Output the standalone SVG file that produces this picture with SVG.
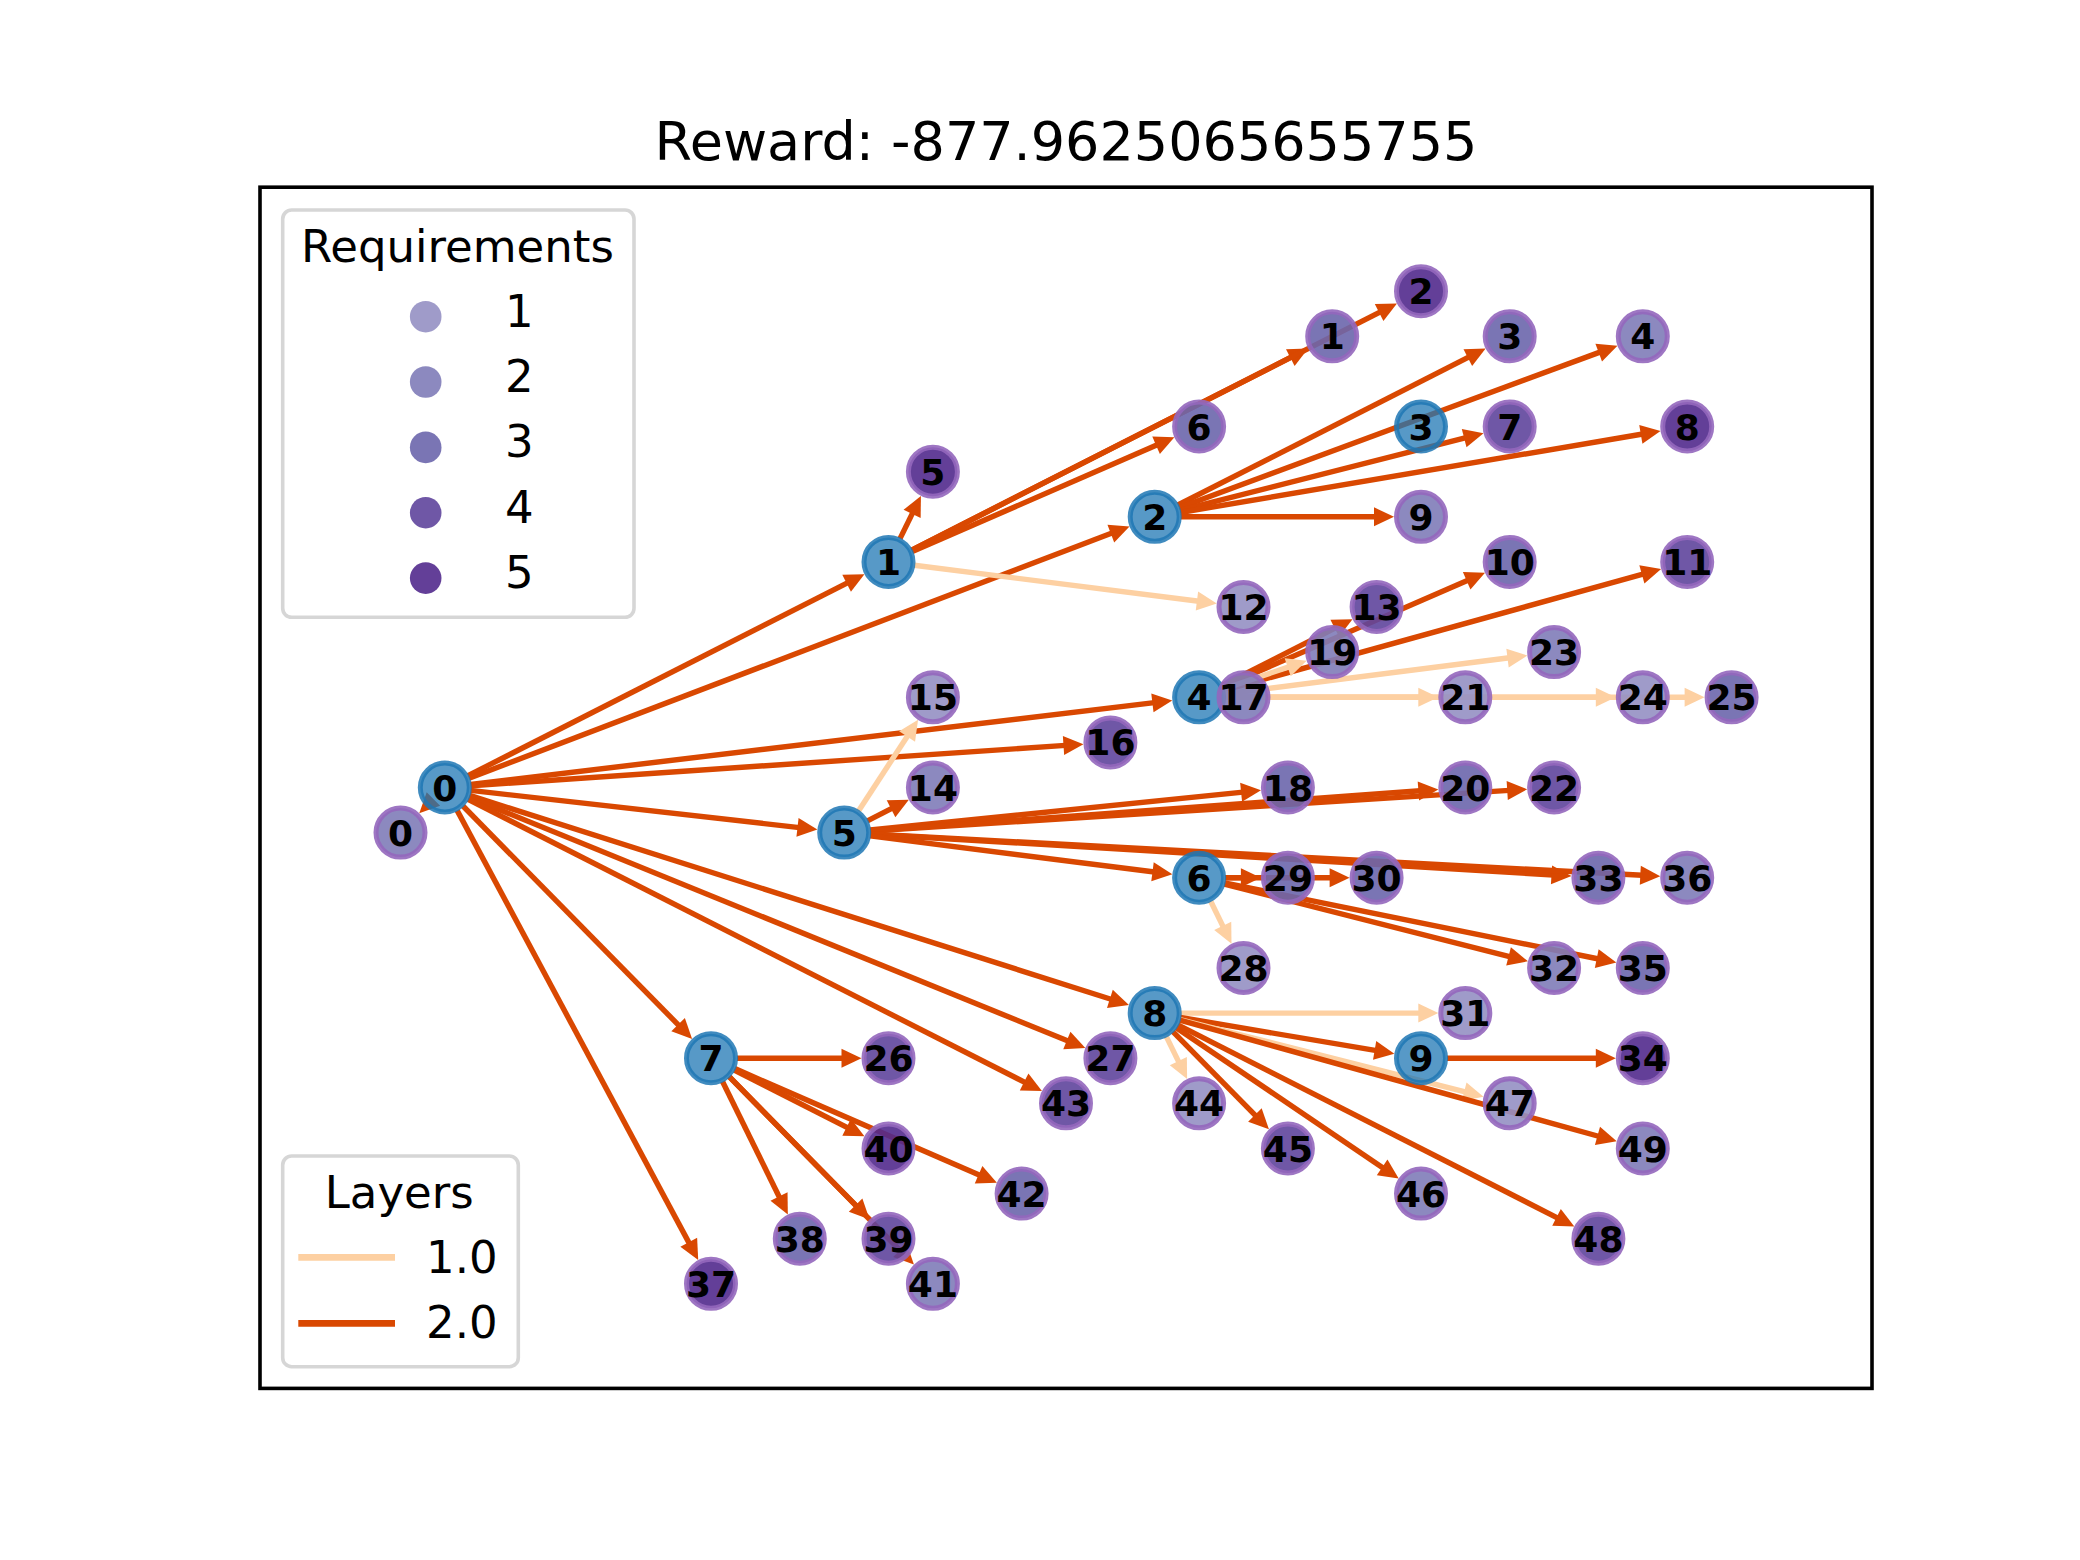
<svg xmlns="http://www.w3.org/2000/svg" width="2080" height="1560" viewBox="0 0 2080 1560">
<style>
.e2{stroke:#d94801;stroke-width:5.4;fill:none;marker-end:url(#ah2)}
.e1{stroke:#fdd0a2;stroke-width:5.4;fill:none;marker-end:url(#ah1)}
.bn{fill:#1f77b4;fill-opacity:0.75;stroke:#1f77b4;stroke-opacity:0.85;stroke-width:5}
.pn{stroke:#9467bd;stroke-opacity:0.9;stroke-width:5;fill-opacity:0.9}
.q1{fill:#9590c3}.q2{fill:#807cb8}.q3{fill:#6c66ac}.q4{fill:#5f459c}.q5{fill:#522a8d}
.lb{font-family:"DejaVu Sans",sans-serif;font-weight:bold;font-size:36px;text-anchor:middle;fill:#000}
.lg{font-family:"DejaVu Sans",sans-serif;font-size:45px;fill:#000}
.frame{fill:#ffffff;fill-opacity:0.8;stroke:#cccccc;stroke-opacity:0.8;stroke-width:3.6}
</style>
<defs>
<marker id="ah2" markerUnits="userSpaceOnUse" orient="auto" refX="0" refY="0" markerWidth="20" markerHeight="20" overflow="visible"><path d="M-2,-9.5 L18,0 L-2,9.5 Z" fill="#d94801"/></marker>
<marker id="ah1" markerUnits="userSpaceOnUse" orient="auto" refX="0" refY="0" markerWidth="20" markerHeight="20" overflow="visible"><path d="M-2,-9.5 L18,0 L-2,9.5 Z" fill="#fdd0a2"/></marker>
</defs>
<rect x="0" y="0" width="2080" height="1560" fill="#ffffff"/>
<text x="1066" y="160" font-family="DejaVu Sans, sans-serif" font-size="54" text-anchor="middle">Reward: -877.9625065655755</text>
<rect x="260" y="187.2" width="1612" height="1201.2" fill="none" stroke="#000" stroke-width="3.6"/>
<g id="edges">
<path class="e2" d="M432.7,799.8 L432.0,800.5"/>
<path class="e2" d="M468.0,775.7 L848.4,582.3"/>
<path class="e2" d="M469.1,778.2 L1112.7,532.8"/>
<path class="e2" d="M470.6,784.4 L1154.4,702.6"/>
<path class="e2" d="M470.7,785.7 L1065.5,745.4"/>
<path class="e2" d="M470.6,790.4 L799.5,827.6"/>
<path class="e2" d="M469.6,795.4 L1111.8,999.5"/>
<path class="e2" d="M468.9,797.3 L1068.7,1041.3"/>
<path class="e2" d="M468.0,799.3 L1025.9,1082.9"/>
<path class="e2" d="M463.0,806.0 L679.5,1026.1"/>
<path class="e2" d="M457.1,810.4 L689.7,1244.1"/>
<path class="e2" d="M900.0,538.6 L913.0,512.1"/>
<path class="e2" d="M911.7,550.1 L1292.1,356.7"/>
<path class="e2" d="M911.7,550.1 L1380.9,311.6"/>
<path class="e2" d="M912.3,551.5 L1157.9,444.5"/>
<path class="e1" d="M914.3,565.2 L1198.9,601.3"/>
<path class="e2" d="M1177.9,505.0 L1469.6,356.7"/>
<path class="e2" d="M1179.1,507.8 L1600.6,351.9"/>
<path class="e2" d="M1179.9,510.4 L1466.1,437.6"/>
<path class="e2" d="M1180.3,512.5 L1642.8,434.0"/>
<path class="e2" d="M1180.7,516.8 L1376.0,516.8"/>
<path class="e2" d="M1222.3,685.5 L1336.5,627.4"/>
<path class="e2" d="M1222.9,686.9 L1468.5,579.9"/>
<path class="e2" d="M1224.2,690.3 L1643.8,573.9"/>
<path class="e1" d="M1223.7,688.9 L1289.6,666.6"/>
<path class="e1" d="M1224.9,694.0 L1509.5,657.8"/>
<path class="e1" d="M1225.1,697.3 L1420.3,697.3"/>
<path class="e1" d="M1225.1,697.3 L1597.8,697.3"/>
<path class="e1" d="M1225.1,697.3 L1686.6,697.3"/>
<path class="e1" d="M858.5,810.9 L908.2,734.9"/>
<path class="e2" d="M867.4,820.8 L892.8,807.9"/>
<path class="e2" d="M870.1,830.0 L1243.1,792.1"/>
<path class="e2" d="M870.1,830.7 L1420.4,790.8"/>
<path class="e2" d="M870.1,831.0 L1509.2,790.4"/>
<path class="e2" d="M870.2,834.2 L1553.5,875.0"/>
<path class="e2" d="M870.2,834.0 L1642.3,875.3"/>
<path class="e2" d="M870.0,835.9 L1154.5,872.0"/>
<path class="e2" d="M1225.1,877.7 L1242.9,877.7"/>
<path class="e2" d="M1225.1,877.7 L1331.6,877.7"/>
<path class="e1" d="M1210.6,901.0 L1223.6,927.6"/>
<path class="e2" d="M1224.3,884.1 L1510.5,956.9"/>
<path class="e2" d="M1224.6,882.9 L1598.7,959.0"/>
<path class="e1" d="M1180.7,1013.1 L1420.3,1013.1"/>
<path class="e2" d="M1180.3,1017.4 L1376.6,1050.7"/>
<path class="e1" d="M1179.9,1019.5 L1466.1,1092.2"/>
<path class="e2" d="M1179.8,1020.1 L1599.4,1136.5"/>
<path class="e1" d="M1166.2,1036.4 L1179.2,1062.9"/>
<path class="e2" d="M1172.9,1031.6 L1256.3,1116.4"/>
<path class="e2" d="M1176.2,1027.7 L1383.8,1168.4"/>
<path class="e2" d="M1177.9,1024.9 L1558.3,1218.3"/>
<path class="e2" d="M1447.0,1058.2 L1597.8,1058.2"/>
<path class="e2" d="M737.0,1058.2 L843.5,1058.2"/>
<path class="e2" d="M734.2,1070.0 L848.4,1128.1"/>
<path class="e2" d="M734.8,1068.6 L980.4,1175.6"/>
<path class="e2" d="M722.5,1081.5 L779.9,1198.3"/>
<path class="e2" d="M729.2,1076.7 L857.0,1206.6"/>
<path class="e2" d="M729.2,1076.7 L901.3,1251.7"/>
</g>
<g id="b0"><circle class="bn" cx="444.8" cy="787.5" r="24.5"/><text class="lb" x="444.8" y="800.5">0</text></g>
<g id="b1"><circle class="bn" cx="888.5" cy="561.9" r="24.5"/><text class="lb" x="888.5" y="574.9">1</text></g>
<g id="b2"><circle class="bn" cx="1154.7" cy="516.8" r="24.5"/><text class="lb" x="1154.7" y="529.8">2</text></g>
<g id="b3"><circle class="bn" cx="1421.0" cy="426.5" r="24.5"/><text class="lb" x="1421.0" y="439.5">3</text></g>
<g id="b4"><circle class="bn" cx="1199.1" cy="697.3" r="24.5"/><text class="lb" x="1199.1" y="710.3">4</text></g>
<g id="b5"><circle class="bn" cx="844.2" cy="832.6" r="24.5"/><text class="lb" x="844.2" y="845.6">5</text></g>
<g id="b6"><circle class="bn" cx="1199.1" cy="877.7" r="24.5"/><text class="lb" x="1199.1" y="890.7">6</text></g>
<g id="b7"><circle class="bn" cx="711.0" cy="1058.2" r="24.5"/><text class="lb" x="711.0" y="1071.2">7</text></g>
<g id="b8"><circle class="bn" cx="1154.7" cy="1013.1" r="24.5"/><text class="lb" x="1154.7" y="1026.1">8</text></g>
<g id="b9"><circle class="bn" cx="1421.0" cy="1058.2" r="24.5"/><text class="lb" x="1421.0" y="1071.2">9</text></g>
<g id="p0"><circle class="pn q2" cx="400.5" cy="832.6" r="24.5"/><text class="lb" x="400.5" y="845.6">0</text></g>
<g id="p1"><circle class="pn q3" cx="1332.2" cy="336.3" r="24.5"/><text class="lb" x="1332.2" y="349.3">1</text></g>
<g id="p2"><circle class="pn q5" cx="1421.0" cy="291.2" r="24.5"/><text class="lb" x="1421.0" y="304.2">2</text></g>
<g id="p3"><circle class="pn q3" cx="1509.7" cy="336.3" r="24.5"/><text class="lb" x="1509.7" y="349.3">3</text></g>
<g id="p4"><circle class="pn q2" cx="1642.8" cy="336.3" r="24.5"/><text class="lb" x="1642.8" y="349.3">4</text></g>
<g id="p5"><circle class="pn q5" cx="932.9" cy="471.7" r="24.5"/><text class="lb" x="932.9" y="484.7">5</text></g>
<g id="p6"><circle class="pn q3" cx="1199.1" cy="426.5" r="24.5"/><text class="lb" x="1199.1" y="439.5">6</text></g>
<g id="p7"><circle class="pn q4" cx="1509.7" cy="426.5" r="24.5"/><text class="lb" x="1509.7" y="439.5">7</text></g>
<g id="p8"><circle class="pn q5" cx="1687.2" cy="426.5" r="24.5"/><text class="lb" x="1687.2" y="439.5">8</text></g>
<g id="p9"><circle class="pn q2" cx="1421.0" cy="516.8" r="24.5"/><text class="lb" x="1421.0" y="529.8">9</text></g>
<g id="p10"><circle class="pn q3" cx="1509.7" cy="561.9" r="24.5"/><text class="lb" x="1509.7" y="574.9">10</text></g>
<g id="p11"><circle class="pn q4" cx="1687.2" cy="561.9" r="24.5"/><text class="lb" x="1687.2" y="574.9">11</text></g>
<g id="p12"><circle class="pn q1" cx="1243.5" cy="607.0" r="24.5"/><text class="lb" x="1243.5" y="620.0">12</text></g>
<g id="p13"><circle class="pn q4" cx="1376.6" cy="607.0" r="24.5"/><text class="lb" x="1376.6" y="620.0">13</text></g>
<g id="p14"><circle class="pn q2" cx="932.9" cy="787.5" r="24.5"/><text class="lb" x="932.9" y="800.5">14</text></g>
<g id="p15"><circle class="pn q1" cx="932.9" cy="697.3" r="24.5"/><text class="lb" x="932.9" y="710.3">15</text></g>
<g id="p16"><circle class="pn q4" cx="1110.4" cy="742.4" r="24.5"/><text class="lb" x="1110.4" y="755.4">16</text></g>
<g id="p17"><circle class="pn q2" cx="1243.5" cy="697.3" r="24.5"/><text class="lb" x="1243.5" y="710.3">17</text></g>
<g id="p18"><circle class="pn q3" cx="1287.9" cy="787.5" r="24.5"/><text class="lb" x="1287.9" y="800.5">18</text></g>
<g id="p19"><circle class="pn q2" cx="1332.2" cy="652.1" r="24.5"/><text class="lb" x="1332.2" y="665.1">19</text></g>
<g id="p20"><circle class="pn q3" cx="1465.3" cy="787.5" r="24.5"/><text class="lb" x="1465.3" y="800.5">20</text></g>
<g id="p21"><circle class="pn q1" cx="1465.3" cy="697.3" r="24.5"/><text class="lb" x="1465.3" y="710.3">21</text></g>
<g id="p22"><circle class="pn q4" cx="1554.1" cy="787.5" r="24.5"/><text class="lb" x="1554.1" y="800.5">22</text></g>
<g id="p23"><circle class="pn q2" cx="1554.1" cy="652.1" r="24.5"/><text class="lb" x="1554.1" y="665.1">23</text></g>
<g id="p24"><circle class="pn q1" cx="1642.8" cy="697.3" r="24.5"/><text class="lb" x="1642.8" y="710.3">24</text></g>
<g id="p25"><circle class="pn q3" cx="1731.6" cy="697.3" r="24.5"/><text class="lb" x="1731.6" y="710.3">25</text></g>
<g id="p26"><circle class="pn q4" cx="888.5" cy="1058.2" r="24.5"/><text class="lb" x="888.5" y="1071.2">26</text></g>
<g id="p27"><circle class="pn q4" cx="1110.4" cy="1058.2" r="24.5"/><text class="lb" x="1110.4" y="1071.2">27</text></g>
<g id="p28"><circle class="pn q1" cx="1243.5" cy="968.0" r="24.5"/><text class="lb" x="1243.5" y="981.0">28</text></g>
<g id="p29"><circle class="pn q3" cx="1287.9" cy="877.7" r="24.5"/><text class="lb" x="1287.9" y="890.7">29</text></g>
<g id="p30"><circle class="pn q3" cx="1376.6" cy="877.7" r="24.5"/><text class="lb" x="1376.6" y="890.7">30</text></g>
<g id="p31"><circle class="pn q1" cx="1465.3" cy="1013.1" r="24.5"/><text class="lb" x="1465.3" y="1026.1">31</text></g>
<g id="p32"><circle class="pn q2" cx="1554.1" cy="968.0" r="24.5"/><text class="lb" x="1554.1" y="981.0">32</text></g>
<g id="p33"><circle class="pn q3" cx="1598.4" cy="877.7" r="24.5"/><text class="lb" x="1598.4" y="890.7">33</text></g>
<g id="p34"><circle class="pn q5" cx="1642.8" cy="1058.2" r="24.5"/><text class="lb" x="1642.8" y="1071.2">34</text></g>
<g id="p35"><circle class="pn q3" cx="1642.8" cy="968.0" r="24.5"/><text class="lb" x="1642.8" y="981.0">35</text></g>
<g id="p36"><circle class="pn q2" cx="1687.2" cy="877.7" r="24.5"/><text class="lb" x="1687.2" y="890.7">36</text></g>
<g id="p37"><circle class="pn q5" cx="711.0" cy="1283.8" r="24.5"/><text class="lb" x="711.0" y="1296.8">37</text></g>
<g id="p38"><circle class="pn q3" cx="799.8" cy="1238.7" r="24.5"/><text class="lb" x="799.8" y="1251.7">38</text></g>
<g id="p39"><circle class="pn q4" cx="888.5" cy="1238.7" r="24.5"/><text class="lb" x="888.5" y="1251.7">39</text></g>
<g id="p40"><circle class="pn q5" cx="888.5" cy="1148.5" r="24.5"/><text class="lb" x="888.5" y="1161.5">40</text></g>
<g id="p41"><circle class="pn q2" cx="932.9" cy="1283.8" r="24.5"/><text class="lb" x="932.9" y="1296.8">41</text></g>
<g id="p42"><circle class="pn q3" cx="1021.6" cy="1193.6" r="24.5"/><text class="lb" x="1021.6" y="1206.6">42</text></g>
<g id="p43"><circle class="pn q4" cx="1066.0" cy="1103.3" r="24.5"/><text class="lb" x="1066.0" y="1116.3">43</text></g>
<g id="p44"><circle class="pn q1" cx="1199.1" cy="1103.3" r="24.5"/><text class="lb" x="1199.1" y="1116.3">44</text></g>
<g id="p45"><circle class="pn q4" cx="1287.9" cy="1148.5" r="24.5"/><text class="lb" x="1287.9" y="1161.5">45</text></g>
<g id="p46"><circle class="pn q2" cx="1421.0" cy="1193.6" r="24.5"/><text class="lb" x="1421.0" y="1206.6">46</text></g>
<g id="p47"><circle class="pn q1" cx="1509.7" cy="1103.3" r="24.5"/><text class="lb" x="1509.7" y="1116.3">47</text></g>
<g id="p48"><circle class="pn q4" cx="1598.4" cy="1238.7" r="24.5"/><text class="lb" x="1598.4" y="1251.7">48</text></g>
<g id="p49"><circle class="pn q2" cx="1642.8" cy="1148.5" r="24.5"/><text class="lb" x="1642.8" y="1161.5">49</text></g>
<g id="legend-requirements">
<rect class="frame" x="282.7" y="210" width="351.3" height="407.3" rx="9" ry="9"/>
<text class="lg" x="457.5" y="261.7" text-anchor="middle">Requirements</text>
<circle class="q1" fill-opacity="0.9" cx="425.7" cy="316.7" r="15.8"/>
<circle class="q2" fill-opacity="0.9" cx="425.7" cy="382.0" r="15.8"/>
<circle class="q3" fill-opacity="0.9" cx="425.7" cy="447.4" r="15.8"/>
<circle class="q4" fill-opacity="0.9" cx="425.7" cy="512.7" r="15.8"/>
<circle class="q5" fill-opacity="0.9" cx="425.7" cy="578.1" r="15.8"/>
<text class="lg" x="505" y="326.7">1</text>
<text class="lg" x="505" y="392.0">2</text>
<text class="lg" x="505" y="457.4">3</text>
<text class="lg" x="505" y="522.7">4</text>
<text class="lg" x="505" y="588.1">5</text>
</g>
<g id="legend-layers">
<rect class="frame" x="282.7" y="1156" width="235.6" height="210.7" rx="9" ry="9"/>
<text class="lg" x="399.2" y="1208.3" text-anchor="middle">Layers</text>
<line x1="298.3" y1="1257.3" x2="395" y2="1257.3" stroke="#fdd0a2" stroke-width="6.8"/>
<line x1="298.3" y1="1323.3" x2="395" y2="1323.3" stroke="#d94801" stroke-width="6.8"/>
<text class="lg" x="426" y="1273.3">1.0</text>
<text class="lg" x="426" y="1338.3">2.0</text>
</g>
</svg>
